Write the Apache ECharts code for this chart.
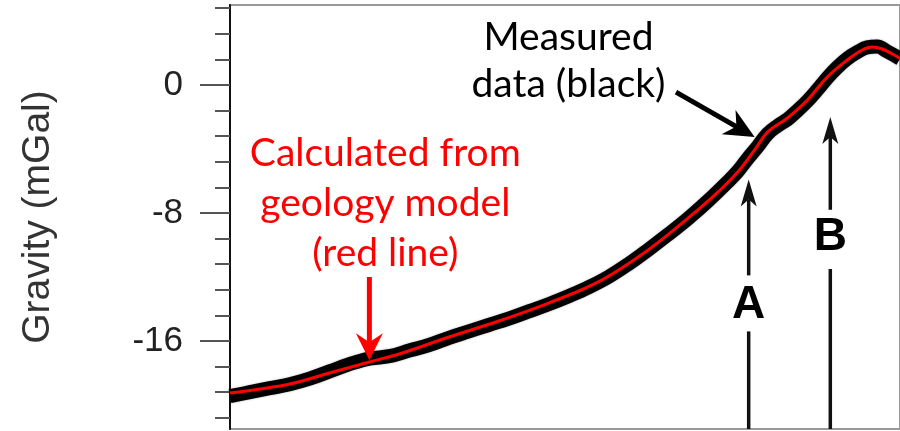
<!DOCTYPE html>
<html><head><meta charset="utf-8">
<script src="https://cdn.jsdelivr.net/npm/echarts@6/dist/echarts.min.js"></script>
<style>html,body{margin:0;padding:0;background:#fff}#c{width:900px;height:431px}</style>
</head><body><div id="c"></div>
<script>
// Calculated gravity (red line): distance (arbitrary units) vs mGal
const calcX    = [0, 3, 6, 10, 14, 17, 22, 27, 32, 37, 41, 44, 47, 49, 51, 52.7, 54, 56, 58, 60, 62, 63.5, 64.5, 65.5, 66.5, 67.3];
const calcMgal = [-19.25, -19.0, -18.69, -18.0, -17.31, -16.81, -15.75, -14.75, -13.63, -12.3, -10.75, -9.35, -7.8, -6.7, -5.44, -4.06, -2.94, -2.06, -0.94, 0.5, 1.56, 2.19, 2.38, 2.25, 1.95, 1.65];
// Measured gravity (black band)
const measX    = [0, 2, 4, 6, 8, 10, 12, 14, 16, 18, 20, 22, 24, 26, 28, 30, 32, 34, 36, 38, 40, 42, 44, 46, 48, 50, 51, 52, 53, 54, 55, 56, 57, 58, 59, 60, 61, 62, 63, 64, 65, 66, 67.3];
const measMgal = [-19.45, -19.2, -18.95, -18.7, -18.35, -17.9, -17.45, -17.1, -16.95, -16.6, -16.25, -15.8, -15.4, -15.0, -14.6, -14.15, -13.7, -13.2, -12.65, -12.0, -11.2, -10.3, -9.35, -8.35, -7.25, -6.05, -5.4, -4.6, -3.85, -3.05, -2.55, -2.15, -1.6, -1.0, -0.3, 0.45, 1.1, 1.65, 2.05, 2.35, 2.4, 2.1, 1.65];
const yMajorTicks = [0, -8, -16];
const yMinorTicks = [4.8, 3.2, 1.6, 0, -1.6, -3.2, -4.8, -6.4, -8, -9.6, -11.2, -12.8, -14.4, -16, -17.6, -19.2, -20.8];
const yMin = -21.5, yMax = 5, xMax = 67.3;
// annotation anchors in data coordinates
const markA = {x: 52.1, tip: -5.9, label: -13.75, gapTop: -11.9, gapBottom: -15.4};
const markB = {x: 60.3, tip: -2.0, label: -9.5, gapTop: -7.8, gapBottom: -11.5};
const redArrow = {x: 14, top: -12.0, tip: -17.2};
const blackArrow = {x0: 44.8, y0: -0.45, x1: 52.7, y1: -3.25};
const measuredText = {x: 34.0, y: 3.0, lines: ['Measured', 'data (black)']};
const calcText = {x: 15.6, y: -4.3, lines: ['Calculated from', 'geology model', '(red line)']};

const chart = echarts.init(document.getElementById('c'), null, {renderer: 'canvas'});
chart.setOption({
  animation: false,
  backgroundColor: '#fff',
  grid: {left: 230, right: -3, top: 5, bottom: 2, show: true, borderColor: '#999', borderWidth: 2, backgroundColor: 'transparent'},
  xAxis: {type: 'value', min: 0, max: xMax, show: false},
  yAxis: [{
    type: 'value', min: yMin, max: yMax, position: 'left',
    axisLine: {show: true, lineStyle: {color: '#111', width: 2}},
    axisTick: {show: true, customValues: yMajorTicks, length: 30, inside: false, lineStyle: {color: '#555', width: 2}},
    axisLabel: {show: true, customValues: yMajorTicks, margin: 47, fontSize: 35, fontFamily: 'Liberation Sans', color: '#222'},
    splitLine: {show: false},
    name: 'Gravity (mGal)', nameLocation: 'middle', nameGap: 172,
    nameTextStyle: {fontSize: 39, fontFamily: 'Liberation Sans', color: '#333'}
  }, {
    type: 'value', min: yMin, max: yMax, position: 'left',
    axisLine: {show: false},
    axisTick: {show: true, customValues: yMinorTicks, length: 15, inside: false, lineStyle: {color: '#555', width: 2}},
    axisLabel: {show: false},
    splitLine: {show: false}
  }],
  series: [{
    type: 'line', name: 'Measured', yAxisIndex: 0, showSymbol: false, smooth: 0.4, z: 2,
    lineStyle: {color: '#000', width: 14, shadowColor: 'rgba(0,0,0,0.35)', shadowBlur: 2},
    data: measX.map((x, i) => [x, measMgal[i]])
  }, {
    type: 'line', name: 'Calculated', yAxisIndex: 0, showSymbol: false, smooth: 0.4, z: 3,
    lineStyle: {color: '#ff0000', width: 3},
    data: calcX.map((x, i) => [x, calcMgal[i]])
  }]
});

function px(x, y) { return chart.convertToPixel({gridIndex: 0}, [x, y]); }
function head(tip, dir, len, halfW, notch, color) {
  const [dx, dy] = dir; const nx = -dy, ny = dx;
  const bx = tip[0] - dx * len, by = tip[1] - dy * len;
  return {type: 'polygon', z: 20, shape: {points: [
    tip, [bx + nx * halfW, by + ny * halfW], [tip[0] - dx * (len - notch), tip[1] - dy * (len - notch)], [bx - nx * halfW, by - ny * halfW]
  ]}, style: {fill: color}};
}
function line(p, q, w, color) {
  return {type: 'line', z: 20, shape: {x1: p[0], y1: p[1], x2: q[0], y2: q[1]}, style: {stroke: color, lineWidth: w}};
}
const g = [];
[markA, markB].forEach((m, k) => {
  const tip = px(m.x, m.tip);
  const bot = px(m.x, yMin);
  const gt = px(m.x, m.gapTop), gb = px(m.x, m.gapBottom);
  g.push(line(bot, gb, 3.5, '#111'));
  g.push(line(gt, [tip[0], tip[1] + 20], 3.5, '#111'));
  g.push(head(tip, [0, -1], 27, 8, 7, '#111'));
  const lp = px(m.x, m.label);
  g.push({type: 'text', z: 20, style: {text: k === 0 ? 'A' : 'B', x: lp[0], y: lp[1], align: 'center', verticalAlign: 'middle', font: 'bold 46px "Liberation Sans"', fill: '#000'}});
});
// red arrow
{
  const t = px(redArrow.x, redArrow.top), tip = px(redArrow.x, redArrow.tip);
  g.push(line(t, [tip[0], tip[1] - 18], 5, '#ff0000'));
  g.push(head(tip, [0, 1], 27, 13.5, 9, '#ff0000'));
}
// black diagonal arrow
{
  const a = px(blackArrow.x0, blackArrow.y0), b = px(blackArrow.x1, blackArrow.y1);
  const L = Math.hypot(b[0] - a[0], b[1] - a[1]); const d = [(b[0] - a[0]) / L, (b[1] - a[1]) / L];
  g.push(line(a, [b[0] - d[0] * 20, b[1] - d[1] * 20], 5, '#000'));
  g.push(head(b, d, 30, 14, 9, '#000'));
}
function addText(t, color) {
  const p = px(t.x, t.y);
  t.lines.forEach((s, i) => {
    g.push({type: 'text', z: 20, style: {text: s, x: p[0], y: p[1] + i * (t === calcText ? 50 : 47), align: 'center', verticalAlign: 'middle', font: '39px Lato', fill: color}});
  });
}
addText(measuredText, '#000');
addText(calcText, '#ff0000');
chart.setOption({graphic: g});
</script></body></html>
